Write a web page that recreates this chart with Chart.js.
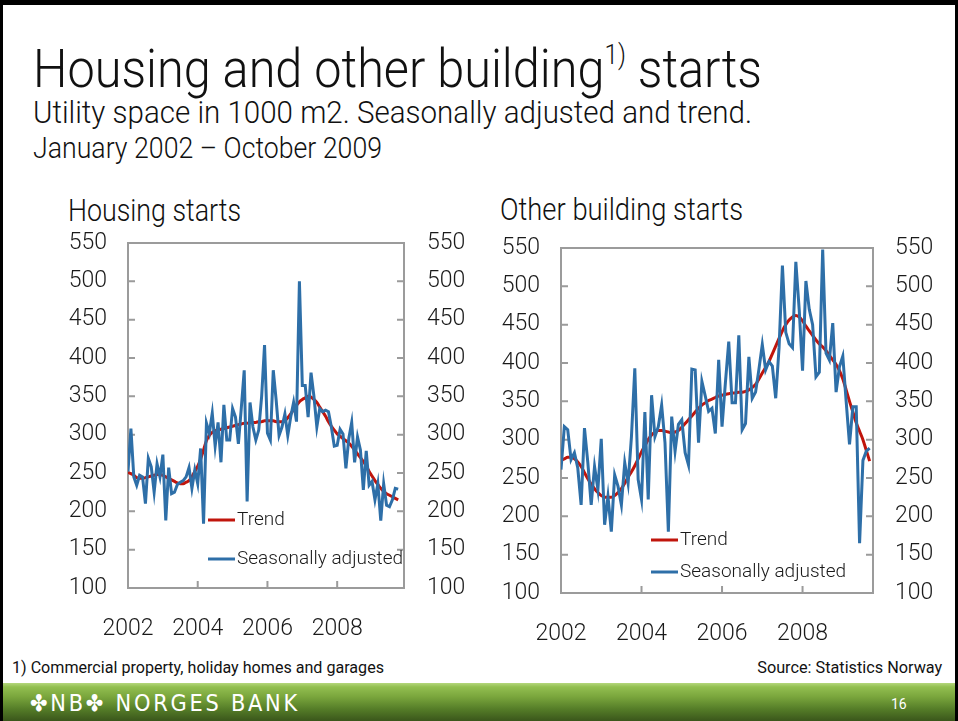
<!DOCTYPE html>
<html>
<head>
<meta charset="utf-8">
<script src="https://cdn.jsdelivr.net/npm/chart.js@4.4.0/dist/chart.umd.min.js"></script>
<style>
  body { margin: 0; width: 958px; height: 721px; overflow: hidden; background: #fff;
         font-family: Roboto, 'Liberation Sans', sans-serif; font-weight: 300; color: #111; position: relative; }
  .t { position: absolute; white-space: nowrap; line-height: 1; display: inline-block; transform-origin: left top; }
  .r { transform-origin: right top; }
  canvas { position: absolute; }
  #frame { position: absolute; left: 0; top: 0; width: 958px; height: 721px; box-sizing: border-box;
           border-top: 5px solid #000; border-left: 3px solid #000; border-right: 3px solid #000; pointer-events: none; }
  #band { position: absolute; left: 0; top: 683px; width: 958px; height: 38px;
          background: linear-gradient(to bottom, #b4d77c 0px, #92bf50 4px, #79a53c 14px, #557d28 26px, #3a561b 38px); }
  sup { font-size: 0.5em; vertical-align: 0.85em; }
</style>
</head>
<body>
<div class="t" id="title" style="left:33px; top:42px; font-size:54px;" data-w="729">Housing and other building<sup>1)</sup> starts</div>
<div class="t" style="left:33px; top:97px; font-size:31px;" data-w="719">Utility space in 1000 m2. Seasonally adjusted and trend.</div>
<div class="t" style="left:33px; top:133px; font-size:30px;" data-w="349">January 2002 – October 2009</div>
<div class="t" style="left:68px; top:195px; font-size:31px;" data-w="173">Housing starts</div>
<div class="t" style="left:500px; top:194px; font-size:31px;" data-w="243">Other building starts</div>

<canvas id="housing" width="430" height="420" style="left:55px; top:230px;"></canvas>
<canvas id="other" width="470" height="420" style="left:485px; top:235px;"></canvas>

<div class="t" style="left:12px; top:660px; font-size:16px; font-weight:400;" data-w="372">1) Commercial property, holiday homes and garages</div>
<div class="t r" style="right:16px; top:660px; font-size:16px; font-weight:400;" data-w="185">Source: Statistics Norway</div>

<div id="band"></div>
<div class="t" style="left:30px; top:692px; font-size:23px; color:#fff; font-family:'DejaVu Sans'; font-weight:400; letter-spacing:3px;" data-w="270">✤NB✤ NORGES BANK</div>
<div class="t" style="left:891px; top:697px; font-size:14px; color:#fff; font-weight:400;">16</div>
<div id="frame"></div>

<script>
// Monthly values, January 2002 onwards (1000 m2)
const yearLabels = ['2002', '2004', '2006', '2008'];
const yearTickMonths = [0, 24, 48, 72];
const yTicks = [100, 150, 200, 250, 300, 350, 400, 450, 500, 550];

const housingSa = [
  252, 308, 245, 234, 247, 245, 210, 269, 258, 225,
  262, 245, 274, 188, 257, 223, 225, 235, 238, 240,
  245, 257, 230, 254, 236, 282, 184, 315, 302, 328,
  285, 316, 264, 339, 293, 293, 334, 323, 288, 335,
  384, 213, 342, 310, 293, 306, 350, 417, 302, 293,
  384, 345, 299, 310, 327, 299, 323, 342, 317, 500,
  364, 364, 323, 381, 350, 310, 334, 330, 332, 330,
  310, 285, 286, 307, 301, 256, 295, 316, 264, 297,
  280, 228, 279, 234, 239, 215, 236, 188, 236, 208,
  206, 215, 230, 229
];
const housingTrend = [
  251, 249, 247, 244, 243, 243, 244, 245, 246, 247,
  248, 248, 247, 245, 243, 241, 239, 237, 236, 236,
  238, 240, 245, 252, 259, 268, 280, 292, 299, 303,
  305, 306, 307, 308, 309, 310, 311, 312, 313, 314,
  315, 315, 316, 316, 316, 317, 317, 318, 318, 318,
  318, 317, 317, 317, 318, 322, 327, 333, 338, 343,
  346, 348, 350, 349, 346, 342, 336, 330, 324, 317,
  311, 306, 301, 298, 295, 292, 289, 285, 280, 275,
  270, 265, 259, 252, 246, 240, 235, 230, 226, 223,
  221, 219, 217, 215
];
const otherSa = [
  261, 317, 313, 274, 283, 263, 215, 315, 270, 215,
  265, 235, 301, 189, 226, 180, 254, 239, 215, 270,
  243, 304, 393, 248, 222, 336, 222, 358, 304, 317,
  345, 296, 180, 330, 285, 320, 326, 283, 267, 392,
  391, 296, 376, 357, 337, 341, 308, 404, 317, 374,
  428, 348, 348, 436, 313, 321, 408, 354, 362, 392,
  424, 391, 402, 396, 354, 420, 527, 440, 425, 420,
  532, 470, 390, 507, 470, 450, 382, 388, 548, 413,
  404, 452, 362, 395, 409, 350, 294, 343, 343, 165,
  273, 285, 289
];
const otherTrend = [
  273, 275, 277, 277, 275, 271, 265, 257, 249, 242,
  236, 231, 227, 225, 225, 225, 227, 231, 236, 243,
  251, 258, 266, 275, 284, 292, 300, 306, 310, 312,
  312, 311, 310, 309, 310, 312, 316, 321, 326, 331,
  336, 341, 345, 348, 351, 353, 355, 357, 358, 359,
  360, 361, 361, 362, 362, 363, 365, 368, 372, 379,
  387, 394, 402, 412, 422, 432, 442, 450, 456, 460,
  462, 460, 455, 448, 442, 436, 430, 425, 421, 416,
  410, 404, 398, 390, 379, 365, 350, 336, 322, 311,
  300, 286, 272
];

const BLUE = '#2e6fa8';
const RED = '#c0150c';
const TEXT = '#1a1a1a';

// stretch text to the widths measured on the slide
document.querySelectorAll('[data-w]').forEach((el) => {
  const w = el.getBoundingClientRect().width;
  el.style.transform = `scaleX(${el.dataset.w / w})`;
});

// grey box and inward tick marks
const framePlugin = {
  id: 'framePlugin',
  beforeDatasetsDraw(chart) {
    const { ctx, chartArea: a, scales } = chart;
    ctx.save();
    ctx.strokeStyle = '#9b9b9b';
    ctx.lineWidth = 2;
    ctx.strokeRect(a.left, a.top, a.right - a.left, a.bottom - a.top);
    ctx.beginPath();
    scales.y.ticks.forEach((t) => {
      const y = scales.y.getPixelForValue(t.value);
      ctx.moveTo(a.left, y); ctx.lineTo(a.left + 7, y);
      ctx.moveTo(a.right, y); ctx.lineTo(a.right - 7, y);
    });
    scales.x.ticks.forEach((t) => {
      const x = scales.x.getPixelForValue(t.value);
      ctx.moveTo(x, a.bottom); ctx.lineTo(x, a.bottom - 7);
    });
    ctx.stroke();
    ctx.restore();
  }
};

// legend drawn inside the plot, trend first
const insetLegend = {
  id: 'insetLegend',
  afterDatasetsDraw(chart, args, opts) {
    const { ctx } = chart;
    const items = [chart.data.datasets[1], chart.data.datasets[0]];
    ctx.save();
    ctx.font = '300 19px Roboto, "Liberation Sans", sans-serif';
    ctx.textBaseline = 'middle';
    items.forEach((ds, i) => {
      const y = opts.y[i];
      ctx.strokeStyle = ds.borderColor;
      ctx.lineWidth = 3;
      ctx.beginPath();
      ctx.moveTo(opts.x, y);
      ctx.lineTo(opts.x + 27, y);
      ctx.stroke();
      ctx.fillStyle = TEXT;
      ctx.fillText(ds.label, opts.x + 29, y);
    });
    ctx.restore();
  }
};

function toPoints(arr) {
  return arr.map((v, i) => ({ x: i, y: v }));
}

// fixed axis sizes, and no extra room for overhanging labels
function fixBox(s, key, size) {
  s[key] = size;
  s.paddingTop = 0;
  s.paddingBottom = 0;
  s.paddingLeft = 0;
  s.paddingRight = 0;
}

function makeChart(id, sa, trend, xMax, dims, legendPos) {
  const yAxis = (pos, width, pad) => ({
    type: 'linear',
    position: pos,
    min: 100,
    max: 550,
    afterBuildTicks: (s) => { s.ticks = yTicks.map((v) => ({ value: v })); },
    afterFit: (s) => fixBox(s, 'width', width),
    grid: { display: false, drawTicks: false },
    border: { display: false },
    ticks: { padding: pad, color: TEXT, font: { family: 'Roboto', size: 23, weight: 300 } }
  });
  return new Chart(document.getElementById(id), {
    type: 'line',
    data: {
      datasets: [
        { label: 'Seasonally adjusted', data: toPoints(sa), borderColor: BLUE, borderWidth: 3,
          pointRadius: 0, tension: 0, yAxisID: 'y' },
        { label: 'Trend', data: toPoints(trend), borderColor: RED, borderWidth: 3,
          pointRadius: 0, tension: 0.4, cubicInterpolationMode: 'monotone', yAxisID: 'y' }
      ]
    },
    options: {
      responsive: false,
      animation: false,
      layout: { padding: { top: 13 } },
      plugins: { legend: { display: false }, tooltip: { enabled: false }, insetLegend: legendPos },
      scales: {
        x: {
          type: 'linear',
          min: 0,
          max: xMax,
          afterBuildTicks: (s) => { s.ticks = yearTickMonths.map((v) => ({ value: v })); },
          afterFit: (s) => fixBox(s, 'height', dims.xH),
          grid: { display: false, drawTicks: false },
          border: { display: false },
          ticks: {
            padding: dims.xPad, color: TEXT, maxRotation: 0, autoSkip: false,
            font: { family: 'Roboto', size: 23, weight: 300 },
            callback: (v) => yearLabels[yearTickMonths.indexOf(v)]
          }
        },
        y: yAxis('left', dims.leftW, dims.leftPad),
        y2: yAxis('right', dims.rightW, dims.rightPad)
      }
    },
    plugins: [framePlugin, insetLegend]
  });
}

makeChart('housing', housingSa, housingTrend, 95,
  { leftW: 73, rightW: 81, xH: 62, leftPad: 21, rightPad: 23, xPad: 27 },
  { x: 153, y: [290, 329] });
makeChart('other', otherSa, otherTrend, 93,
  { leftW: 76, rightW: 82, xH: 62, leftPad: 21, rightPad: 22, xPad: 27 },
  { x: 166, y: [305, 337] });
</script>
</body>
</html>
